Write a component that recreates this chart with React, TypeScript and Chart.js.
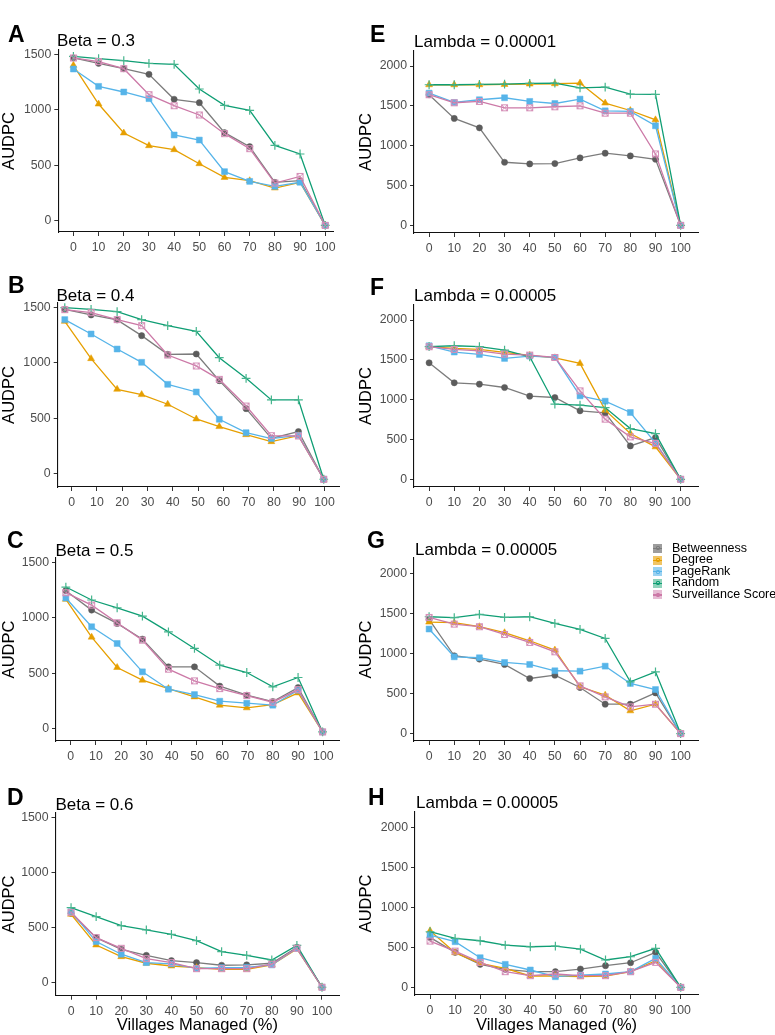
import React, { useEffect, useRef } from "react";
import { Chart, registerables } from "chart.js";
Chart.register(...registerables);

// ---------- DATA ----------
const villagesManaged = [0, 10, 20, 30, 40, 50, 60, 70, 80, 90, 100];
const xDodgeB = [-2.7, 7.7, 18, 27.7, 38, 49.3, 58.4, 69, 79, 89.7, 99.7];
const xDodgeC = [-1.9, 8.3, 18.4, 28.4, 38.7, 49, 59, 69.7, 80, 90, 99.7];
const xTickValues = [0, 10, 20, 30, 40, 50, 60, 70, 80, 90, 100];
const yTicksBeta = [0, 500, 1000, 1500];
const yTicksLambda = [0, 500, 1000, 1500, 2000];
const seriesNames = ["Betweenness", "Degree", "PageRank", "Random", "Surveillance Score"];

const aBetweenness = [1470, 1421, 1373, 1322, 1096, 1065, 794, 667, 344, 359, -45];
const aDegree = [1403, 1053, 791, 676, 640, 513, 389, 359, 293, 344, -45];
const aPageRank = [1370, 1213, 1162, 1102, 773, 727, 441, 353, 308, 345, -45];
const aRandom = [1485, 1464, 1446, 1421, 1412, 1189, 1041, 996, 679, 601, -45];
const aSurveillance = [1470, 1437, 1373, 1138, 1038, 954, 785, 649, 338, 398, -45];

const bBetweenness = [1485, 1434, 1389, 1247, 1078, 1081, 840, 587, 319, 380, -51];
const bDegree = [1376, 1039, 762, 714, 627, 494, 425, 352, 289, 343, -51];
const bPageRank = [1392, 1262, 1126, 1006, 807, 738, 491, 370, 316, 346, -51];
const bRandom = [1500, 1485, 1464, 1392, 1337, 1286, 1048, 861, 666, 666, -51];
const bSurveillance = [1482, 1455, 1392, 1337, 1072, 973, 852, 611, 343, 340, -51];

const cBetweenness = [1244, 1069, 949, 807, 557, 557, 383, 301, 244, 370, -30];
const cDegree = [1166, 825, 551, 437, 361, 286, 211, 187, 217, 322, -30];
const cPageRank = [1178, 919, 768, 512, 355, 307, 247, 229, 211, 346, -30];
const cRandom = [1277, 1160, 1090, 1015, 873, 723, 572, 506, 376, 461, -30];
const cSurveillance = [1226, 1114, 955, 798, 536, 431, 361, 298, 238, 352, -30];

const dBetweenness = [627, 406, 300, 245, 197, 179, 155, 158, 173, 318, -45];
const dDegree = [618, 339, 233, 173, 148, 133, 118, 118, 158, 303, -45];
const dPageRank = [642, 370, 255, 179, 167, 127, 133, 136, 158, 309, -45];
const dRandom = [679, 597, 515, 476, 436, 379, 279, 245, 203, 336, -45];
const dSurveillance = [636, 406, 309, 215, 179, 124, 124, 124, 164, 309, -45];

const eBetweenness = [1640, 1342, 1224, 792, 771, 776, 847, 906, 872, 830, 0];
const eDegree = [1765, 1765, 1765, 1769, 1774, 1778, 1786, 1535, 1442, 1325, 0];
const ePageRank = [1660, 1543, 1577, 1602, 1556, 1530, 1585, 1438, 1430, 1250, 0];
const eRandom = [1765, 1765, 1769, 1774, 1782, 1786, 1727, 1736, 1648, 1644, 0];
const eSurveillance = [1640, 1539, 1556, 1476, 1476, 1489, 1501, 1409, 1409, 897, 0];

const fBetweenness = [1463, 1212, 1195, 1153, 1044, 1027, 860, 834, 419, 524, 0];
const fDegree = [1665, 1644, 1631, 1593, 1556, 1526, 1455, 868, 574, 407, 0];
const fPageRank = [1677, 1598, 1568, 1518, 1547, 1530, 1048, 981, 839, 457, 0];
const fRandom = [1665, 1677, 1665, 1623, 1539, 943, 931, 901, 637, 574, 0];
const fSurveillance = [1665, 1631, 1614, 1572, 1560, 1530, 1111, 755, 533, 449, 0];

const gBetweenness = [1431, 975, 933, 866, 690, 732, 577, 368, 368, 510, 0];
const gDegree = [1397, 1389, 1339, 1264, 1163, 1046, 586, 481, 285, 368, 0];
const gPageRank = [1310, 962, 950, 891, 866, 787, 782, 845, 628, 552, 0];
const gRandom = [1464, 1452, 1494, 1456, 1464, 1381, 1305, 1192, 649, 774, 0];
const gSurveillance = [1456, 1372, 1339, 1243, 1142, 1025, 598, 460, 335, 368, 0];

const hBetweenness = [625, 438, 288, 225, 196, 196, 229, 271, 308, 438, 0];
const hDegree = [708, 433, 300, 238, 142, 142, 133, 142, 196, 333, 0];
const hPageRank = [654, 571, 371, 288, 217, 133, 154, 167, 196, 363, 0];
const hRandom = [696, 613, 583, 529, 508, 517, 479, 342, 383, 488, 0];
const hSurveillance = [579, 454, 313, 196, 146, 167, 146, 146, 196, 313, 0];

// ---------- STYLE / LAYOUT ----------
const FONT = '"Liberation Sans", Arial, Helvetica, sans-serif';
const PAD_TOP = 14;

const seriesStyles = [
  { line: "#7c7c7c", point: "#5c5c5c", shape: "circle", radius: 3.1, order: 4 },
  { line: "#E69F00", point: "#E69F00", shape: "triangle", radius: 4, order: 3 },
  { line: "#56B4E9", point: "#56B4E9", shape: "rect", radius: 4.2, order: 2 },
  { line: "#0F9E74", point: "#45b58d", shape: "cross", radius: 4.4, order: 1 },
  { line: "#CC79A7", point: "#d590b8", shape: "boxX", radius: 4.5, order: 0 },
];

const panels = [
  { letter: "A", title: "Beta = 0.3", xs: villagesManaged, series: [aBetweenness, aDegree, aPageRank, aRandom, aSurveillance],
    yTicks: yTicksBeta, xMin: -6, xMax: 103.2, yMin: -105, yMax: 1542,
    canvasLeft: 0, canvasWidth: 345, plotLeft: 58.3, plotRight: 333.3, plotTop: 50.3, plotBottom: 232.3,
    letterX: 8, letterBase: 42, titleX: 57, titleBase: 46.7, xTitle: false },
  { letter: "B", title: "Beta = 0.4", xs: xDodgeB, series: [bBetweenness, bDegree, bPageRank, bRandom, bSurveillance],
    yTicks: yTicksBeta, xMin: -5.5, xMax: 105.9, yMin: -121, yMax: 1542,
    canvasLeft: 0, canvasWidth: 345, plotLeft: 57.7, plotRight: 340, plotTop: 302.7, plotBottom: 486.7,
    letterX: 8, letterBase: 293.3, titleX: 56.5, titleBase: 301, xTitle: false },
  { letter: "C", title: "Beta = 0.5", xs: xDodgeC, series: [cBetweenness, cDegree, cPageRank, cRandom, cSurveillance],
    yTicks: yTicksBeta, xMin: -5.8, xMax: 106.2, yMin: -112, yMax: 1539,
    canvasLeft: 0, canvasWidth: 345, plotLeft: 56, plotRight: 339, plotTop: 558, plotBottom: 740.7,
    letterX: 7, letterBase: 548, titleX: 55.5, titleBase: 556, xTitle: false },
  { letter: "D", title: "Beta = 0.6", xs: villagesManaged, series: [dBetweenness, dDegree, dPageRank, dRandom, dSurveillance],
    yTicks: yTicksBeta, xMin: -6.2, xMax: 106.9, yMin: -122, yMax: 1539,
    canvasLeft: 0, canvasWidth: 345, plotLeft: 55.5, plotRight: 339.3, plotTop: 813, plotBottom: 995.7,
    letterX: 7, letterBase: 805, titleX: 55.5, titleBase: 810.7, xTitle: true },
  { letter: "E", title: "Lambda = 0.00001", xs: villagesManaged, series: [eBetweenness, eDegree, ePageRank, eRandom, eSurveillance],
    yTicks: yTicksLambda, xMin: -6, xMax: 106.9, yMin: -96, yMax: 2189,
    canvasLeft: 357, canvasWidth: 418, plotLeft: 414, plotRight: 698, plotTop: 50.7, plotBottom: 232.3,
    letterX: 370, letterBase: 42, titleX: 414, titleBase: 47.7, xTitle: false },
  { letter: "F", title: "Lambda = 0.00005", xs: villagesManaged, series: [fBetweenness, fDegree, fPageRank, fRandom, fSurveillance],
    yTicks: yTicksLambda, xMin: -6, xMax: 106.9, yMin: -97, yMax: 2189,
    canvasLeft: 357, canvasWidth: 418, plotLeft: 414, plotRight: 698, plotTop: 305, plotBottom: 486.7,
    letterX: 370, letterBase: 295, titleX: 414, titleBase: 301.7, xTitle: false },
  { letter: "G", title: "Lambda = 0.00005", xs: villagesManaged, series: [gBetweenness, gDegree, gPageRank, gRandom, gSurveillance],
    yTicks: yTicksLambda, xMin: -6, xMax: 106.9, yMin: -93, yMax: 2200,
    canvasLeft: 357, canvasWidth: 418, plotLeft: 414, plotRight: 698, plotTop: 558, plotBottom: 740.7,
    letterX: 367, letterBase: 548, titleX: 415, titleBase: 555, xTitle: false },
  { letter: "H", title: "Lambda = 0.00005", xs: villagesManaged, series: [hBetweenness, hDegree, hPageRank, hRandom, hSurveillance],
    yTicks: yTicksLambda, xMin: -6, xMax: 106.9, yMin: -96, yMax: 2195,
    canvasLeft: 357, canvasWidth: 418, plotLeft: 415, plotRight: 698, plotTop: 811.7, plotBottom: 995,
    letterX: 368, letterBase: 805, titleX: 416, titleBase: 808.3, xTitle: true },
];

function makeBoxX(color: string) {
  const c = document.createElement("canvas");
  c.width = 9;
  c.height = 9;
  const g = c.getContext("2d")!;
  g.strokeStyle = color;
  g.lineWidth = 1;
  g.strokeRect(1.5, 1.5, 6, 6);
  g.beginPath();
  g.moveTo(1.5, 1.5);
  g.lineTo(7.5, 7.5);
  g.moveTo(7.5, 1.5);
  g.lineTo(1.5, 7.5);
  g.stroke();
  return c;
}

function Panel({ p }: { p: any }) {
  const ref = useRef<HTMLCanvasElement | null>(null);
  const xH = p.xTitle ? 1035 - p.plotBottom : 24;
  const height = Math.round(PAD_TOP + (p.plotBottom - p.plotTop) + xH);
  const top = p.plotTop - PAD_TOP;
  useEffect(() => {
    if (!ref.current) return;
    const boxX = makeBoxX(seriesStyles[4].point);
    const datasets = p.series.map((vals: number[], si: number) => {
      const st = seriesStyles[si];
      return {
        label: seriesNames[si],
        data: vals.map((v, i) => ({ x: p.xs[i], y: v })),
        borderColor: st.line,
        borderWidth: 1.3,
        pointStyle: st.shape === "boxX" ? boxX : st.shape,
        pointRadius: st.radius,
        pointBackgroundColor: st.point,
        pointBorderColor: st.point,
        pointBorderWidth: st.shape === "cross" ? 1.2 : 0.5,
        order: st.order,
        tension: 0,
        fill: false,
        clip: false,
      };
    });
    const tickFont = { family: FONT, size: 12.3 };
    const chart = new Chart(ref.current, {
      type: "line",
      data: { datasets },
      options: {
        animation: false,
        responsive: false,
        events: [],
        layout: {
          padding: { left: 0, top: PAD_TOP, bottom: 0, right: p.canvasWidth - (p.plotRight - p.canvasLeft) },
        },
        plugins: { legend: { display: false }, tooltip: { enabled: false } },
        scales: {
          x: {
            type: "linear",
            min: p.xMin,
            max: p.xMax,
            afterBuildTicks: (s: any) => {
              s.ticks = xTickValues.map((v) => ({ value: v }));
            },
            afterFit: (s: any) => {
              s.height = xH;
            },
            grid: { display: true, drawOnChartArea: false, drawTicks: true, tickLength: 4, color: "#333", lineWidth: 1 },
            border: { display: true, color: "#111", width: 1.1 },
            ticks: { color: "#4d4d4d", font: tickFont, padding: 4.5, maxRotation: 0, autoSkip: false, callback: (v: any) => String(v) },
            title: { display: p.xTitle, text: "Villages Managed (%)", color: "#000", font: { family: FONT, size: 16.5 }, padding: 0 },
          },
          y: {
            type: "linear",
            min: p.yMin,
            max: p.yMax,
            afterBuildTicks: (s: any) => {
              s.ticks = p.yTicks.map((v: number) => ({ value: v }));
            },
            afterFit: (s: any) => {
              s.width = p.plotLeft - p.canvasLeft;
            },
            grid: { display: true, drawOnChartArea: false, drawTicks: true, tickLength: 4, color: "#333", lineWidth: 1 },
            border: { display: true, color: "#111", width: 1.1 },
            ticks: { color: "#4d4d4d", font: tickFont, padding: 3, callback: (v: any) => String(v) },
            title: { display: true, text: "AUDPC", color: "#000", font: { family: FONT, size: 16.5 }, padding: 0 },
          },
        },
      } as any,
    });
    return () => chart.destroy();
  }, []);
  return (
    <canvas
      ref={ref}
      width={p.canvasWidth}
      height={height}
      style={{ position: "absolute", left: p.canvasLeft, top, width: p.canvasWidth, height }}
    />
  );
}

export default function App() {
  const legendTop = 548.5 - 5.85;
  return (
    <div
      style={{
        position: "absolute",
        left: 0,
        top: 0,
        width: 775,
        height: 1035,
        overflow: "hidden",
        background: "#fff",
        fontFamily: FONT,
      }}
    >
      {panels.map((p) => (
        <Panel key={p.letter} p={p} />
      ))}
      {panels.map((p) => (
        <div
          key={"l" + p.letter}
          style={{ position: "absolute", left: p.letterX, top: p.letterBase - 19.5, fontSize: 23, lineHeight: "23px", fontWeight: "bold", color: "#000", whiteSpace: "nowrap" }}
        >
          {p.letter}
        </div>
      ))}
      {panels.map((p) => (
        <div
          key={"t" + p.letter}
          style={{ position: "absolute", left: p.titleX, top: p.titleBase - 14.4, fontSize: 17, lineHeight: "17px", color: "#000", whiteSpace: "nowrap" }}
        >
          {p.title}
        </div>
      ))}
      <div style={{ position: "absolute", left: 653, top: legendTop, whiteSpace: "nowrap" }}>
        {seriesNames.map((name, i) => (
          <div key={name} style={{ display: "flex", alignItems: "center", height: 11.6 }}>
            <div style={{ position: "relative", width: 9, height: 9, marginRight: 10 }}>
              <div style={{ position: "absolute", inset: 0, background: seriesStyles[i].point, opacity: 0.6 }} />
              <div style={{ position: "absolute", left: 0, right: 0, top: 4, height: 1.2, background: seriesStyles[i].line }} />
              <div style={{ position: "absolute", left: 2.5, top: 2.5, width: 4, height: 4, border: "0.8px solid " + seriesStyles[i].line, borderRadius: 1, boxSizing: "border-box" }} />
            </div>
            <span style={{ fontSize: 12.5, lineHeight: "11.6px", color: "#000" }}>{name}</span>
          </div>
        ))}
      </div>
    </div>
  );
}
